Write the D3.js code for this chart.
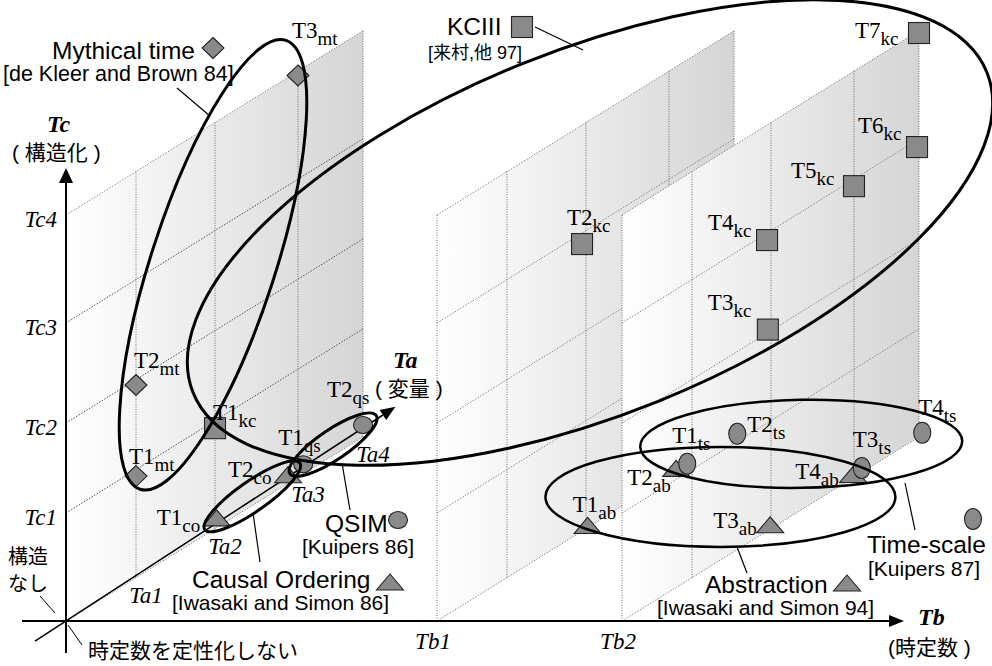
<!DOCTYPE html>
<html><head><meta charset="utf-8">
<script src="https://cdn.jsdelivr.net/npm/d3@7/dist/d3.min.js"></script>
<style>html,body{margin:0;padding:0;background:#fff;overflow:hidden}svg{display:block}</style>
</head><body>
<svg id="chart" width="992" height="666"></svg>
<script>
// ---------------- data ----------------
const taTicks = ["Ta1","Ta2","Ta3","Ta4"];
const tbTicks = ["Tb1","Tb2"];
const tcTicks = ["Tc1","Tc2","Tc3","Tc4"];
// [label, subscript, Ta, Tb, Tc]
const mythicalPts = [["T1","mt",1,0,0.94],["T2","mt",1,0,1.94],["T3","mt",3,0,3.96]];
const kciiiPts = [["T1","kc",2,0,0.93],["T2","kc",1.95,1,2.89],["T3","kc",1.96,2,2.03],["T4","kc",1.95,2,2.93],["T5","kc",3,2,2.93],["T6","kc",3.97,2,2.93],["T7","kc",4,2,3.98]];
const qsimPts = [["T1","qs",3.08,0,0.09],["T2","qs",4,0,0.11]];
const causalPts = [["T1","co",2.02,0,0.09],["T2","co",2.88,0,0.08]];
const abstractionPts = [["T1","ab",2.02,1,0.02],["T2","ab",3.11,1,0.04],["T3","ab",1.99,2,0.04],["T4","ab",2.99,2,0.03]];
const timescalePts = [["T1","ts",3.28,1,0.02],["T2","ts",4.05,1,0.01],["T3","ts",3.12,2,0.04],["T4","ts",4.05,2,0.02]];

// ---------------- layout ----------------
const SERIF = "'Liberation Serif','Times New Roman',serif";
const SANS = "'Liberation Sans',Arial,'Noto Sans CJK JP',sans-serif";
const JP = "'Noto Sans CJK JP',sans-serif";
const gridSlope = 0.62, axisSlope = 0.65;
const xTb = d3.scaleLinear().domain([0,1,2]).range([66,437,622]);
const dTa = d3.scaleLinear().domain([0,1,2,3,4]).range([0,70,149,232,297]);
const yTc = d3.scaleLinear().domain([0,1,2,3,4]).range([621,513,423,323,215]);
function P(ta,tb,tc){ const d=dTa(ta); return [xTb(tb)+d, yTc(tc)-gridSlope*d]; }

const svg = d3.select("#chart");
const defs = svg.append("defs");

// ---------------- walls ----------------
[0,1,2].forEach(tb=>{
  const g = defs.append("linearGradient").attr("id","wg"+tb)
    .attr("gradientUnits","userSpaceOnUse")
    .attr("x1",xTb(tb)).attr("x2",xTb(tb)+dTa(4)).attr("y1",0).attr("y2",0);
  g.append("stop").attr("offset",0).attr("stop-color","#ffffff");
  g.append("stop").attr("offset",1).attr("stop-color","#d5d5d5");
  const w = svg.append("g");
  const poly=[P(0,tb,0),P(4,tb,0),P(4,tb,4),P(0,tb,4)];
  w.append("polygon").attr("points",poly.map(p=>p.join(",")).join(" "))
    .attr("fill","url(#wg"+tb+")");
  [0,1,2,3,4].forEach(tc=>{
    const a=P(0,tb,tc), b=P(4,tb,tc);
    w.append("line").attr("x1",a[0]).attr("y1",a[1]).attr("x2",b[0]).attr("y2",b[1])
      .attr("stroke", tb===0 && tc>0 && tc<4 ? "#555" : "#8a8a8a").attr("stroke-width",1)
      .attr("stroke-dasharray","1.5,1.5");
  });
  [0,1,2,3,4].forEach(ta=>{
    const a=P(ta,tb,0), b=P(ta,tb,4);
    w.append("line").attr("x1",a[0]).attr("y1",a[1]).attr("x2",b[0]).attr("y2",b[1])
      .attr("stroke","#6a6a6a").attr("stroke-width",1).attr("stroke-dasharray","1,1.5");
  });
});

// ---------------- axes ----------------
const ax = svg.append("g");
const O = P(0,0,0);
ax.append("line").attr("x1",O[0]).attr("y1",O[1]+32).attr("x2",O[0]).attr("y2",180)
  .attr("stroke","#000").attr("stroke-width",2);
ax.append("path").attr("d",`M${O[0]},168 L${O[0]+7},183 L${O[0]-7},183 Z`).attr("fill","#000");
ax.append("line").attr("x1",22).attr("y1",O[1]).attr("x2",892).attr("y2",O[1])
  .attr("stroke","#000").attr("stroke-width",2);
ax.append("path").attr("d",`M904,${O[1]} L889,${O[1]-6} L889,${O[1]+6} Z`).attr("fill","#000");
const taEnd = xTb(0)+dTa(4.5);
const taTip = [taEnd, O[1]-axisSlope*(taEnd-O[0])];
const taStart = [O[0]-31, O[1]+axisSlope*31];
const ang = Math.atan2(taTip[1]-O[1], taTip[0]-O[0]);
const base = [taTip[0]-15*Math.cos(ang), taTip[1]-15*Math.sin(ang)];
ax.append("line").attr("x1",taStart[0]).attr("y1",taStart[1]).attr("x2",base[0]).attr("y2",base[1])
  .attr("stroke","#000").attr("stroke-width",1.5);
const nx=-Math.sin(ang), ny=Math.cos(ang);
ax.append("path").attr("d",`M${taTip[0]},${taTip[1]} L${base[0]+6*nx},${base[1]+6*ny} L${base[0]-6*nx},${base[1]-6*ny} Z`).attr("fill","#000");

tcTicks.forEach((t,i)=>{
  ax.append("text").attr("x",57).attr("y",yTc(i+1)+12).attr("text-anchor","end")
    .attr("font-family",SERIF).attr("font-style","italic").attr("font-size",23).text(t);
});
taTicks.forEach((t,i)=>{
  const p=P(i+1,0,0);
  ax.append("text").attr("x",p[0]+10).attr("y",p[1]+25).attr("text-anchor","middle")
    .attr("font-family",SERIF).attr("font-style","italic").attr("font-size",23).text(t);
});
tbTicks.forEach((t,i)=>{
  ax.append("text").attr("x",xTb(i+1)-4).attr("y",649).attr("text-anchor","middle")
    .attr("font-family",SERIF).attr("font-style","italic").attr("font-size",23).text(t);
});
function bi(x,y,t){ ax.append("text").attr("x",x).attr("y",y).attr("font-family",SERIF)
  .attr("font-style","italic").attr("font-weight","bold").attr("font-size",24).text(t); }
bi(47,132,"Tc"); bi(393,368,"Ta"); bi(918,625,"Tb");
function jp(x,y,t,s,fam){ ax.append("text").attr("x",x).attr("y",y).attr("font-family",fam||JP)
  .attr("font-size",s||21).attr("xml:space","preserve").style("white-space","pre").text(t); }
jp(12,160,"( 構造化 )",21,SANS);
jp(375,396,"( 変量 )",21,SANS);
jp(888,655,"(時定数 )",21,SANS);
jp(8,564,"構造",20); jp(8,591,"なし",20);
jp(88,658,"時定数を定性化しない");
ax.append("line").attr("x1",40).attr("y1",596).attr("x2",55).attr("y2",613).attr("stroke","#000").attr("stroke-width",1);
ax.append("line").attr("x1",68).attr("y1",625).attr("x2",82).attr("y2",645).attr("stroke","#000").attr("stroke-width",1);

// ---------------- markers ----------------
const FILL="#8a8a8a", STROKE="#222";
const shapes = {
  diamond: g=>g.append("path").attr("d","M0,-10.5 L11,0 L0,10.5 L-11,0 Z"),
  square: g=>g.append("rect").attr("x",-10.5).attr("y",-10.5).attr("width",21).attr("height",21),
  circ: g=>g.append("ellipse").attr("rx",9.5).attr("ry",8.5),
  tall: g=>g.append("ellipse").attr("rx",8.5).attr("ry",10.5),
  tri: g=>g.append("path").attr("d","M0,-8 L13.5,8 L-13.5,8 Z")
};
function mark(x,y,shape){
  const g=svg.append("g").attr("transform",`translate(${x},${y})`);
  shapes[shape](g).attr("fill",FILL).attr("stroke",STROKE).attr("stroke-width",1.1);
}
const labelOffsets = {
  T1mt:[-7,-12],T2mt:[-2,-17],T3mt:[-6,-37],
  T1kc:[-2,-8],T2kc:[-15,-19],T3kc:[-60,-20],T4kc:[-59,-10],T5kc:[-63,-8],T6kc:[-59,-14],T7kc:[-64,5],
  T1qs:[-25,-19],T2qs:[-36,-28],T1co:[-60,7],T2co:[-60,2],
  T1ts:[-15,-21],T2ts:[10,-2],T3ts:[-9,-21],T4ts:[-4,-18],
  T1ab:[-15,-13],T2ab:[-49,17],T3ab:[-57,3],T4ab:[-58,5]
};
const labelLayer = [];
function series(pts, shape){
  pts.forEach(d=>{
    const p=P(d[2],d[3],d[4]);
    mark(p[0],p[1],shape);
    labelLayer.push([p, d[0], d[1]]);
  });
}
series(mythicalPts,"diamond");
series(kciiiPts,"square");
series(qsimPts,"circ");
series(causalPts,"tri");
series(abstractionPts,"tri");
series(timescalePts,"tall");
labelLayer.forEach(([p,m,s])=>{
  const o=labelOffsets[m+s];
  const t=svg.append("text").attr("x",p[0]+o[0]).attr("y",p[1]+o[1])
    .attr("font-family",SERIF).attr("font-size",23);
  t.append("tspan").text(m);
  t.append("tspan").attr("font-size",19).attr("dy",7).text(s);
});

// ---------------- group ellipses ----------------
const groupEllipses = [
  {pts:mythicalPts, dx:-4, dy:-11, rx:236, ry:62, rot:-72, w:3},
  {pts:kciiiPts, dx:23, dy:2, rx:428, ry:182, rot:-22, w:3},
  {pts:qsimPts, dx:0, dy:0, rx:52, ry:15, rot:-34, w:3},
  {pts:causalPts, dx:0, dy:0, rx:58, ry:15, rot:-35, w:3},
  {pts:timescalePts, dx:-3.5, dy:-6.5, rx:161, ry:44, rot:-1, w:2.5},
  {pts:abstractionPts, dx:0, dy:0, rx:175, ry:50, rot:0, w:2.5}
];
groupEllipses.forEach(e=>{
  const pp=e.pts.map(d=>P(d[2],d[3],d[4]));
  const cx=(d3.min(pp,p=>p[0])+d3.max(pp,p=>p[0]))/2+e.dx;
  const cy=(d3.min(pp,p=>p[1])+d3.max(pp,p=>p[1]))/2+e.dy;
  svg.append("ellipse").attr("cx",0).attr("cy",0).attr("rx",e.rx).attr("ry",e.ry)
    .attr("transform",`translate(${cx},${cy}) rotate(${e.rot})`)
    .attr("fill","none").attr("stroke","#000").attr("stroke-width",e.w);
});

// ---------------- legend / callouts ----------------
const legends = [
  {title:"Mythical time", tx:52, ty:59, ref:"[de Kleer and Brown 84]", rx:3, ry:81, rs:21.5, shape:"diamond", mx:213, my:48, lead:[177,88,210,116]},
  {title:"KCIII", tx:447, ty:35, ref:"[来村,他 97]", rx:428, ry:59, rs:18, shape:"square", mx:522, my:27, lead:[535,27,583,50]},
  {title:"QSIM", tx:325, ty:532, ref:"[Kuipers 86]", rx:302, ry:554, rs:21, shape:"circ", mx:398, my:520, lead:[342,463,350,510]},
  {title:"Causal Ordering", tx:192, ty:588, ref:"[Iwasaki and Simon 86]", rx:172, ry:610, rs:21, shape:"tri", mx:390, my:582, lead:[253,513,260,562]},
  {title:"Time-scale", tx:867, ty:553, ref:"[Kuipers 87]", rx:868, ry:576, rs:21, shape:"tall", mx:973, my:519, lead:[905,483,915,530]},
  {title:"Abstraction", tx:705, ty:593, ref:"[Iwasaki and Simon 94]", rx:657, ry:615, rs:21, shape:"tri", mx:847, my:583, lead:[737,547,747,573]}
];
legends.forEach(l=>{
  svg.append("line").attr("x1",l.lead[0]).attr("y1",l.lead[1]).attr("x2",l.lead[2]).attr("y2",l.lead[3])
    .attr("stroke","#000").attr("stroke-width",1.2);
  svg.append("text").attr("x",l.tx).attr("y",l.ty).attr("font-family",SANS).attr("font-size",24.5).text(l.title);
  svg.append("text").attr("x",l.rx).attr("y",l.ry).attr("font-family",SANS).attr("font-size",l.rs).text(l.ref);
  mark(l.mx,l.my,l.shape);
});
</script>
</body></html>
